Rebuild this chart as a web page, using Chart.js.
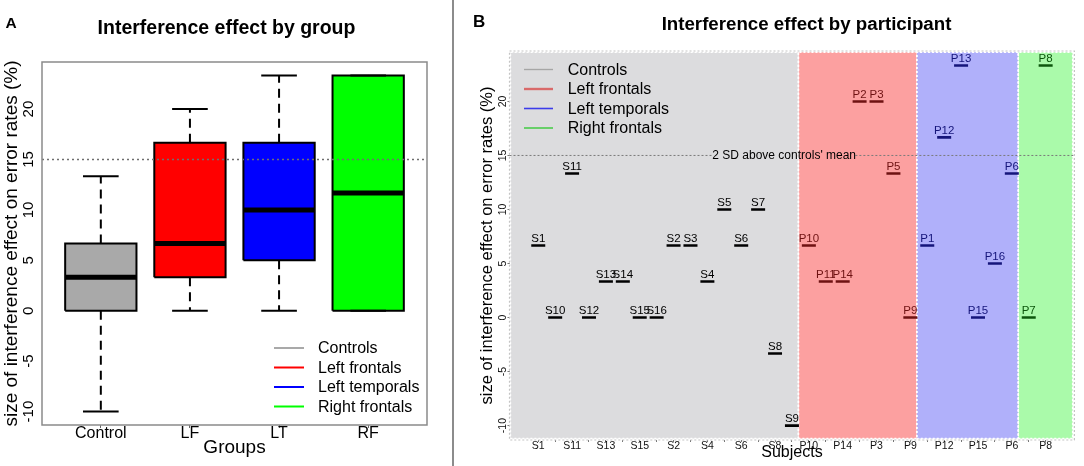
<!DOCTYPE html>
<html><head><meta charset="utf-8">
<script src="https://cdn.jsdelivr.net/npm/chart.js@4.4.0/dist/chart.umd.min.js"></script>
<style>
html,body{margin:0;padding:0;background:#fff;width:1084px;height:466px;overflow:hidden;}
#c1{position:absolute;left:0;top:0;}
#c2{position:absolute;left:455px;top:0;}
#sep{position:absolute;left:452px;top:0;width:2px;height:466px;background:#8c8c8c;}
</style></head><body>
<canvas id="c1" width="453" height="466"></canvas>
<div id="sep"></div>
<canvas id="c2" width="629" height="466"></canvas>
<script>
// ================= Panel A data =================
const groups = ['Control', 'LF', 'LT', 'RF'];
const groupColors = ['#a9a9a9', '#ff0000', '#0000ff', '#00ff00'];
const whiskerLow = [-10, 0, 0, 0];
const boxLow = [0, 3.33, 5, 0];
const medians = [3.33, 6.67, 10, 11.67];
const boxHigh = [6.67, 16.67, 16.67, 23.33];
const whiskerHigh = [13.33, 20, 23.33, 23.33];
const yTicksA = [-10, -5, 0, 5, 10, 15, 20];
const threshold = 15;
const legendNames = ['Controls', 'Left frontals', 'Left temporals', 'Right frontals'];

// ================= Panel B data =================
const controlSubjects = ['S1','S10','S11','S12','S13','S14','S15','S16','S2','S3','S4','S5','S6','S7','S8','S9'];
const controlValues = [6.67, 0, 13.33, 0, 3.33, 3.33, 0, 0, 6.67, 6.67, 3.33, 10, 6.67, 10, -3.33, -10];
const lfSubjects = ['P10','P11','P14','P2','P3','P5','P9'];
const lfValues = [6.67, 3.33, 3.33, 20, 20, 13.33, 0];
const ltSubjects = ['P1','P12','P13','P15','P16','P6'];
const ltValues = [6.67, 16.67, 23.33, 0, 5, 13.33];
const rfSubjects = ['P7','P8'];
const rfValues = [0, 23.33];
const yTicksB = [-10, -5, 0, 5, 10, 15, 20];
const thresholdLabel = "2 SD above controls' mean";

const FONT = "'Liberation Sans', Arial, Helvetica, sans-serif";
Chart.defaults.font.family = FONT;
Chart.defaults.color = '#000';
Chart.defaults.animation = false;

const Y_MIN = -11.333, Y_MAX = 24.667;

function lineDs(points, opts) {
  return Object.assign({
    type: 'line', data: points, showLine: true, pointRadius: 0, pointHoverRadius: 0,
    fill: false, borderCapStyle: 'butt', tension: 0, spanGaps: false
  }, opts);
}

// ---------- generic plugins ----------
const textPlugin = {
  id: 'panelText',
  afterDraw(chart, args, opts) {
    const ctx = chart.ctx; ctx.save();
    (opts.items || []).forEach(it => {
      ctx.font = it.font; ctx.fillStyle = it.color || '#000';
      ctx.textAlign = it.align || 'left'; ctx.textBaseline = 'alphabetic';
      ctx.fillText(it.text, it.x, it.y);
    });
    ctx.restore();
  }
};
const legendPlugin = {
  id: 'boxLegend',
  afterDraw(chart, args, o) {
    const ctx = chart.ctx; ctx.save();
    o.names.forEach((n, i) => {
      const y = o.ys[i];
      ctx.strokeStyle = o.colors[i]; ctx.lineWidth = o.widths[i];
      ctx.beginPath(); ctx.moveTo(o.x0, y); ctx.lineTo(o.x1, y); ctx.stroke();
      ctx.font = o.font; ctx.fillStyle = '#000'; ctx.textAlign = 'left'; ctx.textBaseline = 'middle';
      ctx.fillText(n, o.xt, y + 1);
    });
    ctx.restore();
  }
};
const framePlugin = {
  id: 'frame',
  afterDatasetsDraw(chart, args, o) {
    const a = chart.chartArea, ctx = chart.ctx; ctx.save();
    ctx.strokeStyle = o.color; ctx.lineWidth = o.width; ctx.setLineDash(o.dash || []);
    ctx.strokeRect(a.left, a.top, a.right - a.left, a.bottom - a.top);
    ctx.restore();
  }
};

// ================= Chart A =================
const dsA = [];
dsA.push(lineDs([{x: 0.34, y: threshold}, {x: 4.66, y: threshold}],
  {borderColor: '#6f6f6f', borderWidth: 1.4, borderDash: [2, 3], order: 0}));
groups.forEach((g, i) => {
  const x = i + 1;
  dsA.push(lineDs([{x: x - 0.4, y: medians[i]}, {x: x + 0.4, y: medians[i]}],
    {borderColor: '#000', borderWidth: 5, order: 1}));
  dsA.push(lineDs([{x: x - 0.4, y: boxLow[i]}, {x: x + 0.4, y: boxLow[i]}, {x: x + 0.4, y: boxHigh[i]},
                   {x: x - 0.4, y: boxHigh[i]}, {x: x - 0.4, y: boxLow[i]}],
    {borderColor: '#000', borderWidth: 2, order: 2, borderJoinStyle: 'miter'}));
  dsA.push(lineDs([{x: x - 0.4, y: boxHigh[i]}, {x: x + 0.4, y: boxHigh[i]}],
    {borderColor: 'rgba(0,0,0,0)', borderWidth: 0, backgroundColor: groupColors[i], fill: {value: boxLow[i]}, order: 5}));
  dsA.push(lineDs([{x: x, y: boxHigh[i]}, {x: x, y: whiskerHigh[i]}],
    {borderColor: '#000', borderWidth: 2, borderDash: [9, 6], order: 3}));
  dsA.push(lineDs([{x: x, y: boxLow[i]}, {x: x, y: whiskerLow[i]}],
    {borderColor: '#000', borderWidth: 2, borderDash: [9, 6], order: 3}));
  dsA.push(lineDs([{x: x - 0.2, y: whiskerHigh[i]}, {x: x + 0.2, y: whiskerHigh[i]}],
    {borderColor: '#000', borderWidth: 2, order: 3}));
  dsA.push(lineDs([{x: x - 0.2, y: whiskerLow[i]}, {x: x + 0.2, y: whiskerLow[i]}],
    {borderColor: '#000', borderWidth: 2, order: 3}));
});

new Chart(document.getElementById('c1'), {
  type: 'line',
  data: {datasets: dsA},
  plugins: [framePlugin, legendPlugin, textPlugin],
  options: {
    responsive: false, animation: false, events: [],
    layout: {padding: {left: 0, top: 62, right: 26, bottom: 0}},
    plugins: {
      legend: {display: false}, title: {display: false}, tooltip: {enabled: false},
      frame: {color: '#8a8a8a', width: 1.5},
      boxLegend: {x0: 274, x1: 304, xt: 318, ys: [348, 367.5, 387, 406.5], names: legendNames,
        colors: groupColors, widths: [2, 2, 2, 2], font: '16px ' + FONT},
      panelText: {items: [
        {text: 'A', x: 5.5, y: 27.5, font: 'bold 15.5px ' + FONT},
        {text: 'Interference effect by group', x: 226.5, y: 34.3, align: 'center', font: 'bold 19.5px ' + FONT}
      ]}
    },
    scales: {
      x: {
        type: 'linear', min: 0.34, max: 4.66,
        afterBuildTicks: s => { s.ticks = groups.map((g, i) => ({value: i + 1})); },
        ticks: {autoSkip: false, maxRotation: 0, padding: -2, color: '#000',
          font: {size: 16, lineHeight: 1}, callback: v => groups[v - 1] || ''},
        grid: {drawOnChartArea: false, drawTicks: true, tickLength: 3, color: '#666'},
        border: {display: false},
        title: {display: true, text: 'Groups', color: '#000', font: {size: 19}, padding: {top: 0, bottom: 6.6}},
        afterFit: s => { s.height = 41; }
      },
      y: {
        type: 'linear', min: Y_MIN, max: Y_MAX,
        afterBuildTicks: s => { s.ticks = yTicksA.map(v => ({value: v})); },
        ticks: {minRotation: 90, maxRotation: 90, crossAlign: 'center', padding: 2.4, color: '#000',
          font: {size: 15}, callback: v => String(v)},
        grid: {drawOnChartArea: false, drawTicks: false},
        border: {display: false},
        title: {display: true, text: 'size of interference effect on error rates (%)', color: '#000',
          font: {size: 19}, padding: 0},
        afterFit: s => { s.width = 42; }
      }
    }
  }
});

// ================= Chart B =================
const X_MIN_B = -1.7, X_MAX_B = 31.7;
const subjects = [...controlSubjects, ...lfSubjects, ...ltSubjects, ...rfSubjects];
const groupDefs = [
  {names: controlSubjects, values: controlValues, mark: '#000000', region: '#dcdcde'},
  {names: lfSubjects, values: lfValues, mark: '#6e1212', region: '#fca0a0'},
  {names: ltSubjects, values: ltValues, mark: '#15157a', region: '#b0b0fa'},
  {names: rfSubjects, values: rfValues, mark: '#0c560c', region: '#aafaaa'}
];
const REGION_Y = [-11.2, 24.55];
const labelGap = [10.33, 18.75];
const labelCenterX = 14.54;

const dsB = [];
let start = 0;
groupDefs.forEach((g, gi) => {
  const end = start + g.names.length - 1;
  const x0 = gi === 0 ? X_MIN_B + 0.05 : start - 0.62;
  const x1 = gi === groupDefs.length - 1 ? X_MAX_B - 0.1 : end + 0.38;
  dsB.push(lineDs([{x: x0, y: REGION_Y[1]}, {x: x1, y: REGION_Y[1]}],
    {borderColor: 'rgba(0,0,0,0)', borderWidth: 0, backgroundColor: g.region, fill: {value: REGION_Y[0]}, order: 10}));
  dsB.push(lineDs([{x: x0, y: REGION_Y[0]}, {x: x1, y: REGION_Y[0]}, {x: x1, y: REGION_Y[1]},
                   {x: x0, y: REGION_Y[1]}, {x: x0, y: REGION_Y[0]}],
    {borderColor: '#ffffff', borderWidth: 1.6, borderDash: [2, 2], order: 9}));
  dsB.push({
    type: 'line', showLine: false, order: 1,
    data: g.values.map((v, i) => ({x: start + i, y: v})),
    pointLabels: g.names,
    borderColor: g.mark, backgroundColor: g.mark,
    pointStyle: 'line', pointRadius: 7, pointHoverRadius: 7, pointBorderWidth: 2.6,
    pointBorderColor: g.mark
  });
  start = end + 1;
});
dsB.push(lineDs([{x: X_MIN_B, y: threshold}, {x: labelGap[0], y: threshold}, {x: labelGap[0], y: null},
                 {x: labelGap[1], y: threshold}, {x: X_MAX_B, y: threshold}],
  {borderColor: '#7a7a7a', borderWidth: 1, borderDash: [2, 2], order: 8}));

const pointLabelPlugin = {
  id: 'pointLabels',
  afterDatasetsDraw(chart, args, o) {
    const ctx = chart.ctx; ctx.save();
    ctx.textAlign = 'center'; ctx.textBaseline = 'middle';
    ctx.font = o.font;
    chart.data.datasets.forEach((ds, di) => {
      if (!ds.pointLabels) return;
      ctx.fillStyle = ds.borderColor;
      chart.getDatasetMeta(di).data.forEach((el, i) => {
        ctx.fillText(ds.pointLabels[i], el.x, el.y - o.offset);
      });
    });
    // threshold label
    const xs = chart.scales.x, ys = chart.scales.y;
    ctx.fillStyle = '#000'; ctx.font = o.refFont;
    ctx.fillText(thresholdLabel, xs.getPixelForValue(labelCenterX), ys.getPixelForValue(threshold) + 0.5);
    ctx.restore();
  }
};

new Chart(document.getElementById('c2'), {
  type: 'line',
  data: {datasets: dsB},
  plugins: [pointLabelPlugin, framePlugin, legendPlugin, textPlugin],
  options: {
    responsive: false, animation: false, events: [],
    layout: {padding: {left: 0, top: 51, right: 2.4, bottom: 0}},
    plugins: {
      legend: {display: false}, title: {display: false}, tooltip: {enabled: false},
      pointLabels: {font: '11.5px ' + FONT, offset: 7, refFont: '12px ' + FONT},
      frame: {color: '#c4c4c4', width: 1.2, dash: [2, 2]},
      boxLegend: {x0: 69, x1: 98, xt: 112.7, ys: [69.5, 89, 108.5, 128], names: legendNames,
        colors: ['#a6a6a6', '#d96a6a', '#3c3cea', '#4ccc4c'], widths: [1.4, 2.4, 1.6, 1.6], font: '16px ' + FONT},
      panelText: {items: [
        {text: 'B', x: 18, y: 27, font: 'bold 17px ' + FONT},
        {text: 'Interference effect by participant', x: 351.5, y: 30, align: 'center', font: 'bold 18.7px ' + FONT}
      ]}
    },
    scales: {
      x: {
        type: 'linear', min: X_MIN_B, max: X_MAX_B,
        afterBuildTicks: s => { s.ticks = subjects.map((n, i) => ({value: i})); },
        ticks: {autoSkip: false, maxRotation: 0, padding: -1, color: '#111',
          font: {size: 10.5, lineHeight: 1}, callback: v => (v % 2 === 0 ? subjects[v] : '')},
        grid: {drawOnChartArea: false, drawTicks: true, tickLength: 2, color: '#777'},
        border: {display: false},
        title: {display: true, text: 'Subjects', color: '#000', font: {size: 16}, padding: {top: 0, bottom: 3.4}},
        afterFit: s => { s.height = 26; }
      },
      y: {
        type: 'linear', min: Y_MIN, max: Y_MAX,
        afterBuildTicks: s => { s.ticks = yTicksB.map(v => ({value: v})); },
        ticks: {minRotation: 90, maxRotation: 90, crossAlign: 'center', padding: -3.6, color: '#111',
          font: {size: 10.5}, callback: v => String(v)},
        grid: {drawOnChartArea: false, drawTicks: true, tickLength: 2, color: '#777'},
        border: {display: false},
        title: {display: true, text: 'size of interference effect on error rates (%)', color: '#000',
          font: {size: 16.5}, padding: {top: 23, bottom: 0}},
        afterFit: s => { s.width = 54.5; }
      }
    }
  }
});
</script>
</body></html>
